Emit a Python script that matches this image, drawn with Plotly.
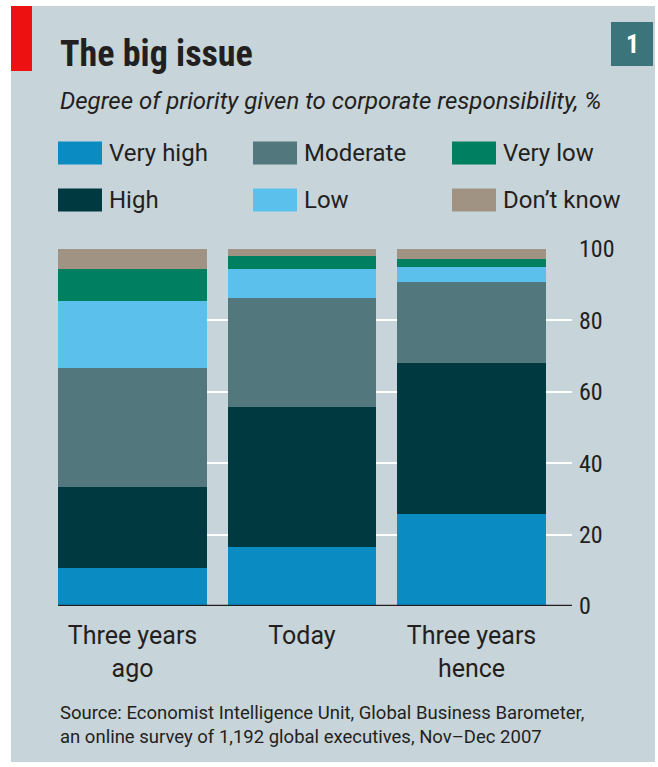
import plotly.graph_objects as go

# ---------------- data ----------------
categories = ["Three years<br>ago", "Today", "Three years<br>hence"]
series_names = ["Very high", "High", "Moderate", "Low", "Very low", "Don\u2019t know"]
very_high = [10.6, 16.5, 25.8]
high = [22.7, 39.2, 42.3]
moderate = [33.4, 30.6, 22.7]
low = [18.7, 8.1, 4.2]
very_low = [9.0, 3.6, 2.2]
dont_know = [5.6, 2.0, 2.8]
y_ticks = [0, 20, 40, 60, 80, 100]

series_values = [very_high, high, moderate, low, very_low, dont_know]
colors = ["#0a8cc2", "#003940", "#52777c", "#5bc1ec", "#008060", "#a09383"]

FONT_C = "Roboto Condensed, Liberation Sans Narrow, Roboto, sans-serif"
FONT = "Roboto, Open Sans, sans-serif"
TXT = "#231f20"
PANEL = "#c7d4d9"

W, H = 658, 767
L, R, T, B = 58, 572, 249, 606  # plot area in pixels


def px(x):
    return (x - L) / (R - L)


def py(y):
    return (B - y) / (B - T)


fig = go.Figure()
xs = list(range(len(categories)))
for name, vals, col in zip(series_names, series_values, colors):
    fig.add_trace(go.Bar(x=xs, y=vals, name=name, marker=dict(color=col, line=dict(width=0)),
                         width=0.879, showlegend=False, hoverinfo="skip"))

shapes = []
# panel background
shapes.append(dict(type="rect", xref="paper", yref="paper", x0=px(11), x1=px(655), y0=py(762), y1=py(6),
                   fillcolor=PANEL, line=dict(width=0), layer="below"))
# red tag
shapes.append(dict(type="rect", xref="paper", yref="paper", x0=px(11), x1=px(32), y0=py(71), y1=py(6),
                   fillcolor="#ee1111", line=dict(width=0), layer="above"))
# number box
shapes.append(dict(type="rect", xref="paper", yref="paper", x0=px(611), x1=px(653), y0=py(66), y1=py(22),
                   fillcolor="#3b747a", line=dict(width=0), layer="above"))
# baseline
shapes.append(dict(type="line", xref="paper", yref="y", x0=0, x1=1, y0=0, y1=0,
                   line=dict(color=TXT, width=2.5), layer="above"))

annotations = []
annotations.append(dict(xref="paper", yref="paper", x=px(632), y=py(44), text="<b>1</b>", showarrow=False,
                        xanchor="center", yanchor="middle", font=dict(family=FONT_C, size=26, color="white")))
annotations.append(dict(xref="paper", yref="paper", x=px(58), y=py(54), text="<b>The big issue</b>",
                        showarrow=False, xanchor="left", yanchor="middle",
                        font=dict(family=FONT_C, size=36, color=TXT)))
annotations.append(dict(xref="paper", yref="paper", x=px(58), y=py(101),
                        text="<i>Degree of priority given to corporate responsibility, %</i>",
                        showarrow=False, xanchor="left", yanchor="middle",
                        font=dict(family=FONT, size=24, color=TXT)))

# legend (manual, 3 columns x 2 rows)
legend_order = [0, 2, 4, 1, 3, 5]
col_x = [58, 253, 452]
row_y = [153, 200]
for k, idx in enumerate(legend_order):
    r, c = divmod(k, 3)
    x0 = col_x[c]
    yc = row_y[r]
    shapes.append(dict(type="rect", xref="paper", yref="paper", x0=px(x0), x1=px(x0 + 44),
                       y0=py(yc + 11.5), y1=py(yc - 11.5), fillcolor=colors[idx], line=dict(width=0)))
    annotations.append(dict(xref="paper", yref="paper", x=px(x0 + 49), y=py(yc), text=series_names[idx],
                            showarrow=False, xanchor="left", yanchor="middle",
                            font=dict(family=FONT, size=24, color=TXT)))

# source
annotations.append(dict(xref="paper", yref="paper", x=px(58), y=py(725),
                        text="Source: Economist Intelligence Unit, Global Business Barometer,<br>"
                             "an online survey of 1,192 global executives, Nov\u2013Dec 2007",
                        showarrow=False, xanchor="left", yanchor="middle", align="left",
                        font=dict(family=FONT, size=18.5, color=TXT)))

fig.update_layout(
    width=W, height=H,
    margin=dict(l=L, r=W - R, t=T, b=H - B, pad=0),
    paper_bgcolor="white", plot_bgcolor="rgba(0,0,0,0)",
    barmode="stack", bargap=0,
    shapes=shapes, annotations=annotations,
    showlegend=False,
    xaxis=dict(range=[-0.4395, 2.593], tickvals=xs, ticktext=categories, showgrid=False,
               zeroline=False, showline=False, ticks="", fixedrange=True,
               tickfont=dict(family=FONT, size=25, color=TXT), ticklabelstandoff=12),
    yaxis=dict(range=[0, 100], tickvals=y_ticks, side="right", showgrid=True, gridcolor="white",
               gridwidth=2, zeroline=False, showline=False, ticks="", fixedrange=True,
               tickfont=dict(family=FONT_C, size=24, color=TXT), ticklabelstandoff=6),
)

fig.write_html("out.html")
